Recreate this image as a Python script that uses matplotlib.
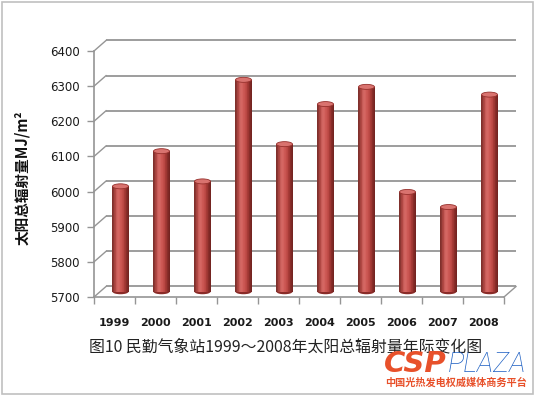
import numpy as np
import matplotlib
matplotlib.use("Agg")
import matplotlib.pyplot as plt
from matplotlib.patches import Ellipse, Rectangle
from matplotlib.colors import LinearSegmentedColormap

# ===============================
# DATA
# ===============================
years = ['1999', '2000', '2001', '2002', '2003', '2004', '2005', '2006', '2007', '2008']
radiation = [6000, 6100, 6014, 6303, 6120, 6234, 6283, 5984, 5941, 6261]
y_ticks = [5700, 5800, 5900, 6000, 6100, 6200, 6300, 6400]

y_label = '太阳总辐射量MJ/m²'
caption = '图10 民勤气象站1999～2008年太阳总辐射量年际变化图'

CJK = ['Noto Sans CJK SC', 'DejaVu Sans']

# ===============================
# FIGURE / AXES (front plane of the pseudo 3D box)
# ===============================
W, H = 536, 395
fig = plt.figure(figsize=(W / 100, H / 100), dpi=100)
ax_l, ax_b, ax_w, ax_h = 94, 98, 410, 246
ax = fig.add_axes([ax_l / W, ax_b / H, ax_w / W, ax_h / H])
ax.set_facecolor('none')

y0, y1 = y_ticks[0], y_ticks[-1]
n = len(years)
ax.set_xlim(-0.5, n - 0.5)
ax.set_ylim(y0, y1)

# depth offset of back wall, pixels -> data units
px_x = ax_w / n
px_y = ax_h / (y1 - y0)
DX = 12 / px_x
DY = 10.5 / px_y

grid_c = '#959595'

# back wall + side wall gridlines
for v in y_ticks:
    ax.plot([-0.5 + DX, n - 0.5 + DX], [v + DY, v + DY], color=grid_c,
            lw=1.3, clip_on=False, zorder=1, solid_capstyle='butt')
    ax.plot([-0.5, -0.5 + DX], [v, v + DY], color=grid_c, lw=1.0,
            clip_on=False, zorder=1)
# floor right edge
ax.plot([n - 0.5, n - 0.5 + DX], [y0, y0 + DY], color=grid_c, lw=1.0,
        clip_on=False, zorder=1)

# ===============================
# CYLINDER BARS
# ===============================
cmap = LinearSegmentedColormap.from_list(
    'cyl', ['#80302c', '#b04743', '#d86c68', '#cf5b57', '#c04b47', '#9c3531', '#742421'])
bw = 0.39
n_strip = 24
eh = 5 / px_y
for i, v in enumerate(radiation):
    xc = i + DX / 2
    base = y0 + DY / 2
    top = v + DY / 2
    # bottom ellipse
    ax.add_patch(Ellipse((xc, base), bw, eh, facecolor='#8a2b28',
                         edgecolor='none', zorder=3, clip_on=False))
    xs = xc - bw / 2 + (np.arange(n_strip) + 0.5) * bw / n_strip
    cols = cmap(np.linspace(0, 1, n_strip))
    ax.bar(xs, top - base, bottom=base, width=bw / n_strip * 1.05,
           color=cols, linewidth=0, zorder=4, clip_on=False)
    # top ellipse
    ax.add_patch(Ellipse((xc, top), bw, eh, facecolor='#d9736f',
                         edgecolor='#96302c', lw=0.6, zorder=5, clip_on=False))

# ===============================
# AXES STYLE
# ===============================
for s in ['top', 'right']:
    ax.spines[s].set_visible(False)
for s in ['left', 'bottom']:
    ax.spines[s].set_color(grid_c)
    ax.spines[s].set_linewidth(1.2)

ax.set_yticks(y_ticks)
ax.set_yticklabels([str(t) for t in y_ticks], fontsize=8.5, color='#1a1a1a')
ax.tick_params(axis='y', length=5, width=1, color=grid_c, pad=5)

ax.set_xticks(np.arange(n + 1) - 0.5)
ax.set_xticklabels([''] * (n + 1))
ax.tick_params(axis='x', which='major', length=5, width=1, color=grid_c)
ax.set_xticks(np.arange(n), minor=True)
ax.set_xticklabels(years, minor=True, fontsize=8, fontweight='bold',
                   color='#1a1a1a')
ax.tick_params(axis='x', which='minor', length=0, pad=15)

# ===============================
# TEXTS
# ===============================
fig.text(22 / W, 1 - 178 / H, y_label, rotation=90, ha='center', va='center',
         fontsize=10.5, fontweight='bold', family=CJK, color='#111111')
fig.text(89 / W, 1 - 347 / H, caption, ha='left', va='center',
         fontsize=11.4, family=CJK, color='#222222')

# watermark
fig.text(384 / W, 1 - 364 / H, 'CSP', ha='left', va='center', fontsize=21,
         fontweight='heavy', style='italic', color='#e8512b')
fig.text(448 / W, 1 - 364 / H, 'PLAZA', ha='left', va='center', fontsize=20,
         fontweight='light', style='italic', color='#1d5fc2',
         family=['Roboto', 'DejaVu Sans'])
fig.text(456 / W, 1 - 383 / H, '中国光热发电权威媒体商务平台', ha='center',
         va='center', fontsize=7.3, fontweight='bold', family=CJK,
         color='#e8512b')

# frame around picture
fig.patches.append(Rectangle((1.5 / W, 1.5 / H), 531 / W, 392 / H,
                             transform=fig.transFigure, fill=False,
                             edgecolor='#c0c0c0', lw=1.2))

fig.savefig('out.png', dpi=100)
